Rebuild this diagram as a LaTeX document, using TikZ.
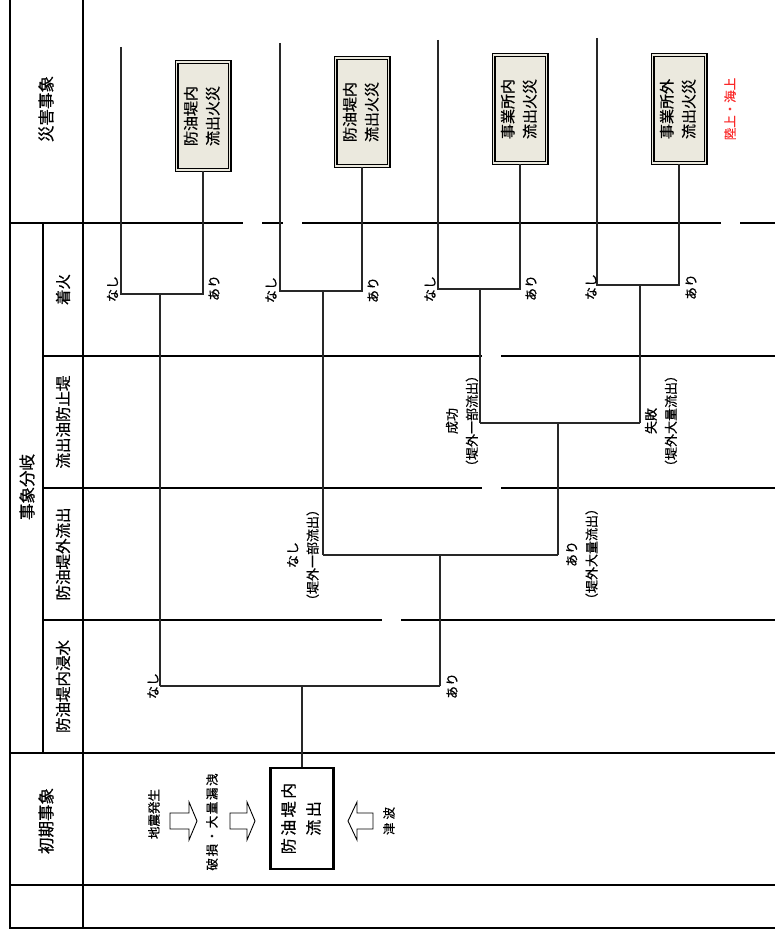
\documentclass[tikz,border=0pt]{standalone}
\usepackage{fontspec}
\setmainfont{Noto Sans CJK JP}[FakeBold=0.6]
\usepackage{graphicx}
\definecolor{boxbg}{RGB}{235,233,222}
\definecolor{treec}{RGB}{40,40,40}
\definecolor{redtxt}{RGB}{250,40,40}
\newcommand\lsp[2]{\def\lspk{#1}\lspgo#2\relax}
\def\lspgo#1{\ifx\relax#1\unkern\else#1\kern\lspk\expandafter\lspgo\fi}
\begin{document}
\begin{tikzpicture}[x=1pt,y=-1pt,
  gridline/.style={line width=1.1pt,black},
  framethick/.style={line width=2.6pt,black,line join=miter},
  tree/.style={line width=1.2pt,treec},
  hdr/.style={rotate=90,inner sep=0pt,font=\fontsize{16.5}{20}\selectfont},
  sub/.style={rotate=90,inner sep=0pt,font=\fontsize{15.5}{20}\selectfont},
  lbl/.style={rotate=90,inner sep=0pt,align=center,font=\fontsize{13}{20}\selectfont},
  itxt/.style={rotate=90,inner sep=0pt,font=\fontsize{12.5}{20}\selectfont},
  outbox/.style={draw=black,line width=1.4pt,double=boxbg,double distance=1.2pt,fill=boxbg,minimum width=53pt,minimum height=108pt,inner sep=0pt,font=\fontsize{15}{22}\selectfont},
  initbox/.style={draw=black,line width=2.4pt,fill=white,minimum width=63pt,minimum height=101pt,inner sep=0pt,font=\fontsize{16}{25}\selectfont},
  barrow/.style={draw=black,line width=0.9pt,fill=white,line join=miter}]
\useasboundingbox (0,0) rectangle (775,933);

% ---------- frame and grid ----------
\draw[framethick] (10,0) -- (10,928) -- (775,928);
\draw[framethick] (83,0) -- (83,928);
\draw[gridline] (43,223) -- (43,753);
\draw[gridline] (10,223) -- (243,223);
\draw[gridline] (262,223) -- (283,223);
\draw[gridline] (302,223) -- (721,223);
\draw[gridline] (740,223) -- (775,223);
\draw[gridline] (43,356) -- (482,356);
\draw[gridline] (501,356) -- (775,356);
\draw[gridline] (43,488) -- (482,488);
\draw[gridline] (501,488) -- (775,488);
\draw[gridline] (43,620) -- (382,620);
\draw[gridline] (401,620) -- (775,620);
\draw[gridline] (10,753) -- (775,753);
\draw[gridline] (10,885) -- (775,885);

% ---------- headers ----------
\node[hdr] (hsaigai) at (46,109) {災害事象};
\node[hdr] (hbunki) at (27,487) {事象分岐};
\node[hdr] (hshoki) at (46,821) {初期事象};
\node[sub] (hchaku) at (63,289.5) {着火};
\node[sub] (hboushi) at (63,422) {流出油防止堤};
\node[sub] (hgai) at (63,554) {防油堤外流出};
\node[sub] (hshin) at (63,686.5) {防油堤内浸水};

% ---------- initial event ----------
\node[initbox] (init) at (302,818.5) {\rotatebox{90}{\begin{tabular}{@{}c@{}}\lsp{2.5pt}{防油堤内}\\\lsp{2.5pt}{流出}\end{tabular}}};
\node[itxt] (tjishin) at (154,814) {地震発生};
\node[itxt] (thason) at (212,822) {\lsp{1.6pt}{破損・大量漏洩}};
\node[itxt] (ttsunami) at (389,821) {\lsp{3pt}{津波}};
\draw[barrow] (170,813) -- (189,813) -- (189,802) -- (197,821) -- (189,840) -- (189,829) -- (170,829) -- cycle;
\draw[barrow] (230,813) -- (247,813) -- (247,802) -- (255,821) -- (247,840) -- (247,829) -- (230,829) -- cycle;
\draw[barrow] (373,813) -- (357,813) -- (357,802) -- (348,821) -- (357,840) -- (357,829) -- (373,829) -- cycle;

% ---------- outcome boxes ----------
\node[outbox] (o1) at (203,116) {\rotatebox{90}{\begin{tabular}{@{}c@{}}防油堤内\\流出火災\end{tabular}}};
\node[outbox] (o2) at (362,112) {\rotatebox{90}{\begin{tabular}{@{}c@{}}防油堤内\\流出火災\end{tabular}}};
\node[outbox] (o3) at (520,109) {\rotatebox{90}{\begin{tabular}{@{}c@{}}事業所内\\流出火災\end{tabular}}};
\node[outbox] (o4) at (679,109) {\rotatebox{90}{\begin{tabular}{@{}c@{}}事業所外\\流出火災\end{tabular}}};
\node[itxt,text=redtxt] (rik) at (730,109) {陸上・海上};

% ---------- tree coordinates ----------
\coordinate (r) at (302,686);
\coordinate (s1) at (160,686);
\coordinate (s2) at (440,686);
\coordinate (f1) at (160,294);
\coordinate (f1n) at (121,294);
\coordinate (f1a) at (203,294);
\coordinate (f1t) at (121,47);
\coordinate (d1) at (440,555);
\coordinate (d1n) at (323,555);
\coordinate (d1a) at (558,555);
\coordinate (f2) at (323,291);
\coordinate (f2n) at (280,291);
\coordinate (f2a) at (362,291);
\coordinate (f2t) at (280,43);
\coordinate (b1) at (558,423);
\coordinate (b1n) at (480,423);
\coordinate (b1a) at (640,423);
\coordinate (f3) at (480,289);
\coordinate (f3n) at (438,289);
\coordinate (f3a) at (520,289);
\coordinate (f3t) at (438,40);
\coordinate (f4) at (640,285);
\coordinate (f4n) at (597,285);
\coordinate (f4a) at (679,285);
\coordinate (f4t) at (597,38);

% ---------- tree lines ----------
\draw[tree] (init.north) -- (r);
\draw[tree] (s1) -- (s2);
\draw[tree] (s1) -- (f1);
\draw[tree] (f1t) -- (f1n) -- (f1a) -- (o1.south);
\draw[tree] (s2) -- (d1);
\draw[tree] (d1n) -- (d1a);
\draw[tree] (d1n) -- (f2);
\draw[tree] (f2t) -- (f2n) -- (f2a) -- (o2.south);
\draw[tree] (d1a) -- (b1);
\draw[tree] (b1n) -- (b1a);
\draw[tree] (b1n) -- (f3);
\draw[tree] (f3t) -- (f3n) -- (f3a) -- (o3.south);
\draw[tree] (b1a) -- (f4);
\draw[tree] (f4t) -- (f4n) -- (f4a) -- (o4.south);

% ---------- branch labels ----------
\node[lbl] (l1n) at (112.5,289) {なし};
\node[lbl] (l1a) at (214,288) {あり};
\node[lbl] (l2n) at (271,290) {なし};
\node[lbl] (l2a) at (373,290) {あり};
\node[lbl] (l3n) at (430,289) {なし};
\node[lbl] (l3a) at (531,288) {あり};
\node[lbl] (l4n) at (591,287) {なし};
\node[lbl] (l4a) at (691,287) {あり};
\node[lbl] (lsn) at (153,686) {なし};
\node[lbl] (lsa) at (452,686) {あり};
\node[lbl] (ldn) at (303,555) {なし\\（堤外一部流出）};
\node[lbl] (lda) at (582,554) {あり\\（堤外大量流出）};
\node[lbl] (lbn) at (462,421) {成功\\（堤外一部流出）};
\node[lbl] (lba) at (661,421) {失敗\\（堤外大量流出）};
\end{tikzpicture}
\end{document}
